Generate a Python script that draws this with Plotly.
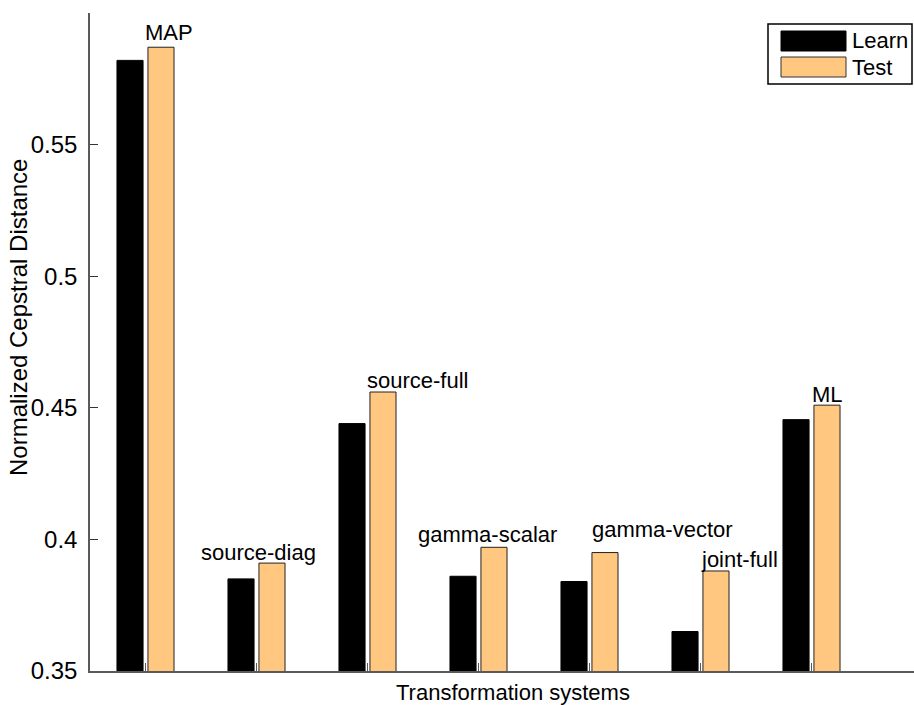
import plotly.graph_objects as go

# ---- data ----
systems = ["MAP", "source-diag", "source-full", "gamma-scalar", "gamma-vector", "joint-full", "ML"]
learn = [0.582, 0.385, 0.444, 0.386, 0.384, 0.365, 0.4455]
test = [0.587, 0.391, 0.456, 0.397, 0.395, 0.388, 0.451]
y_ticks = [0.35, 0.4, 0.45, 0.5, 0.55]
y_ticktext = ["0.35", "0.4", "0.45", "0.5", "0.55"]
series_names = ["Learn", "Test"]
x_title = "Transformation systems"
y_title = "Normalized Cepstral Distance"

# ---- style ----
W, H = 914, 705
ML_, MR, MT = 90, 0, 13
MB = H - 671
FONT = "Liberation Sans, Arial, Helvetica, sans-serif"
FS = 22
FS_TICK = 24
C_LEARN = "rgb(0,0,0)"
C_TEST = "rgb(255,199,127)"
AXIS_C = "#5a5a5a"

xpos = list(range(1, len(systems) + 1))
bar_w = 0.235

fig = go.Figure()
fig.add_trace(go.Bar(x=xpos, y=learn, name=series_names[0], width=bar_w, offset=-0.257,
                     marker=dict(color=C_LEARN, line=dict(color="black", width=1))))
fig.add_trace(go.Bar(x=xpos, y=test, name=series_names[1], width=bar_w, offset=0.022,
                     marker=dict(color=C_TEST, line=dict(color="#222", width=1))))

# labels over groups
label_pad = [0.0056, 0.004, 0.0043, 0.0047, 0.0086, 0.0042, 0.004]
label_anchor = ["left", "center", "left", "center", "left", "left", "left"]
label_dx = [-0.02, 0.02, -0.02, 0.08, 0.0, -0.01, -0.01]
for i, s in enumerate(systems):
    fig.add_annotation(x=xpos[i] + label_dx[i], y=test[i] + label_pad[i], text=s,
                       xref="x", yref="y", showarrow=False, xanchor=label_anchor[i],
                       yanchor="middle", font=dict(family=FONT, size=FS, color="black"))

# pixel geometry -> paper coords
pw = W - ML_ - MR
ph = H - MT - MB
def px(x):
    return (x - ML_) / pw
def py(y):
    return (H - MB - y) / ph

# manual legend
fig.add_shape(type="rect", xref="paper", yref="paper", x0=px(768), x1=px(912), y0=py(84), y1=py(24),
              line=dict(color="black", width=1.5), fillcolor="white", layer="above")
fig.add_shape(type="rect", xref="paper", yref="paper", x0=px(781), x1=px(846), y0=py(51), y1=py(31),
              line=dict(color="black", width=1), fillcolor=C_LEARN, layer="above")
fig.add_shape(type="rect", xref="paper", yref="paper", x0=px(781), x1=px(846), y0=py(77), y1=py(57),
              line=dict(color="#333", width=1), fillcolor=C_TEST, layer="above")
fig.add_annotation(xref="paper", yref="paper", x=px(850), y=py(41), text=series_names[0],
                   showarrow=False, xanchor="left", yanchor="middle",
                   font=dict(family=FONT, size=FS, color="black"))
fig.add_annotation(xref="paper", yref="paper", x=px(850), y=py(67), text=series_names[1],
                   showarrow=False, xanchor="left", yanchor="middle",
                   font=dict(family=FONT, size=FS, color="black"))

# axis titles placed where the reference has them
fig.add_annotation(xref="paper", yref="paper", x=px(513), y=py(692), text=x_title,
                   showarrow=False, xanchor="center", yanchor="middle",
                   font=dict(family=FONT, size=FS, color="black"))
fig.add_annotation(xref="paper", yref="paper", x=px(18), y=py(318), text=y_title,
                   textangle=-90, showarrow=False, xanchor="center", yanchor="middle",
                   font=dict(family=FONT, size=FS_TICK, color="black"))

fig.update_layout(
    width=W, height=H,
    margin=dict(l=ML_, r=MR, t=MT, b=MB, autoexpand=False),
    paper_bgcolor="white", plot_bgcolor="white",
    showlegend=False,
    font=dict(family=FONT, size=FS, color="black"),
    xaxis=dict(range=[0.5, 0.5 + pw / 111.0], tickvals=xpos, ticktext=[""] * len(xpos),
               ticks="inside", ticklen=8, tickcolor=AXIS_C, tickwidth=1, automargin=False,
               showline=True, linecolor=AXIS_C, linewidth=1.5, showgrid=False, zeroline=False),
    yaxis=dict(range=[0.35, 0.60], tickvals=y_ticks, ticktext=y_ticktext,
               ticks="inside", ticklen=8, tickcolor="#333", tickwidth=1, automargin=False,
               showline=True, linecolor=AXIS_C, linewidth=1.5, showgrid=False, zeroline=False,
               ticklabelstandoff=6, tickfont=dict(size=FS_TICK)),
)

fig.write_html("out.html", config={"displayModeBar": False},
               post_script="document.body.style.margin='0px';document.body.style.overflow='hidden';")
